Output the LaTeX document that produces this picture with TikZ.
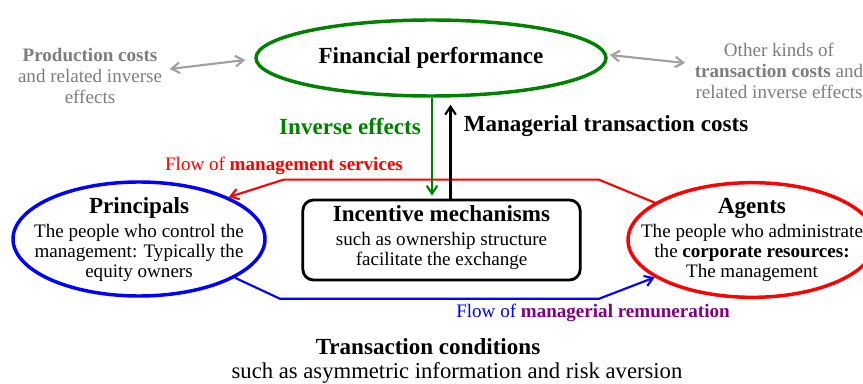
\documentclass[tikz,border=0pt]{standalone}
\usepackage{fontspec}
\setmainfont{Liberation Serif}
\usepackage{tikz}
\usetikzlibrary{positioning, calc, shapes.geometric}
\usetikzlibrary{arrows.meta}

\begin{document}
\begin{tikzpicture}[x=0.75pt, y=-0.75pt, >={Straight Barb[length=6pt,width=8pt]}, align=center,
        body/.style={font=\fontsize{14.3}{15}\selectfont},
        head/.style={font=\fontsize{17.3}{18}\selectfont\bfseries},
        party/.style={draw, ellipse, line width=2.6pt, inner sep=0pt},
        flow/.style={->, line width=1.6pt},
        side/.style={<->, line width=1.6pt, draw=sidegray}]
        % Define colors
        \definecolor{finegreen}{RGB}{0,128,0}
        \definecolor{sidegray}{RGB}{160,160,160}
        \definecolor{sidetext}{RGB}{125,125,125}
        \definecolor{remviolet}{RGB}{128,0,128}

        \useasboundingbox (0,0) rectangle (863,384);

        % Nodes
        \node[party, draw=finegreen, minimum width=262.5pt, minimum height=57pt, head] (fin) at (431,58) {Financial performance};
        \node[body, text=sidetext, font=\fontsize{14.3}{15.8}\selectfont] (prod) at (90,76) {\textbf{Production costs}\\ and related inverse\\ effects};
        \node[body, text=sidetext, font=\fontsize{14.3}{15.8}\selectfont] (other) at (779,71) {Other kinds of\\ \textbf{transaction costs} and\\ related inverse effects};

        \node[party, draw=blue, minimum width=189pt, minimum height=85.5pt] (princ) at (139,239) {};
        \node[body] (princtext) at (139,240) {{\fontsize{17.3}{18}\selectfont\bfseries Principals}\\[3pt] The people who control the\\ management: Typically the\\ equity owners};
        \node[party, draw=red, minimum width=186pt, minimum height=86pt] (agents) at (752,240) {};
        \node[body] (agentstext) at (752,240) {{\fontsize{17.3}{18}\selectfont\bfseries Agents}\\[3pt] The people who administrate\\ the \textbf{corporate resources:}\\ The management};

        \node[draw, rounded corners=8pt, line width=2.1pt, minimum width=208pt, minimum height=60pt] (box) at (441.5,240) {};
        \node[body] (boxtext) at (441.5,238) {{\fontsize{17.3}{18}\selectfont\bfseries Incentive mechanisms}\\[3pt] such as ownership structure\\ facilitate the exchange};

        \node[head, text=finegreen] (inv) at (350,126) {Inverse effects};
        \node[head] (mtc) at (606,126) {Managerial transaction costs};
        \node[body, text=red] (servflow) at (284,166) {Flow of \textbf{management services}};
        \node[body, text=blue] (remflow) at (593,313) {Flow of \textcolor{remviolet}{\textbf{managerial remuneration}}};
        \node[head, inner sep=0pt] (cond) at (428,347) {Transaction conditions};
        \node[font=\fontsize{17}{18}\selectfont, inner sep=0pt] (condsub) at (457,373) {such as asymmetric information and risk aversion};

        % Edges
        \draw[side] ([shift={(3,-7)}]prod.east) -- ([shift={(-9,2)}]fin.west);
        \draw[side] ([shift={(2,-3)}]fin.east) -- ([shift={(-5,-8)}]other.west);
        \draw[flow, draw=red] (agents.159) -- ++(-56,-23) -- ++(-315,0) -- (princ.25);
        \draw[flow, draw=blue] (princ.-22) -- ++(45,21) -- ++(319,0) -- (agents.201);
        \draw[flow, draw=finegreen] ($(fin.south)+(1,0)$) -- ($(fin.south |- box.north)+(1,-3)$);
        \draw[flow] ($(box.north)+(9,0)$) -- ($(box.north |- fin.south)+(9,7)$);
    \end{tikzpicture}
\end{document}
